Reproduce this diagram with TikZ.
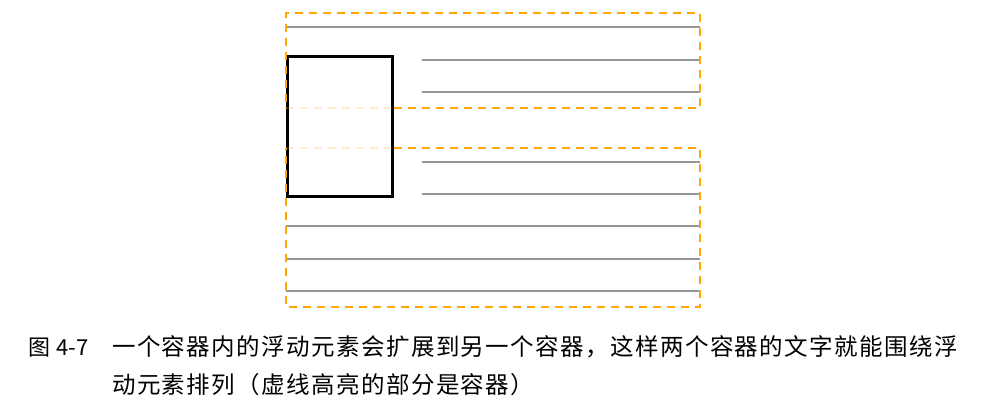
\documentclass[tikz,border=0pt]{standalone}
\usepackage{fontspec}
\newfontfamily\cjk[LetterSpace=6]{Noto Sans CJK SC}
\newfontfamily\cjklabel{Noto Sans CJK SC}
\definecolor{boxorange}{RGB}{255,166,0}
\definecolor{linegray}{RGB}{150,150,150}
\begin{document}
\begin{tikzpicture}[x=1pt,y=-1pt,
    container/.style={draw=boxorange,line width=2.6pt,dash pattern=on 8pt off 6pt},
    faded/.style={container,draw opacity=0.2},
    textline/.style={draw=linegray,line width=2.4pt},
    caption/.style={anchor=base west,font=\cjk\fontsize{23.5}{23.5}\selectfont,inner sep=0pt}]
    \useasboundingbox (0,0) rectangle (986,402);

    \foreach \y/\x in {27/286,60/422,92/422,162/422,194/422,226/286,259/286,291/286}
        \draw[textline] (\x,\y) -- (700,\y);

    \node[draw,line width=2.6pt,inner sep=0pt,minimum width=105pt,minimum height=140pt,anchor=north west] (float) at (286,55) {};

    \coordinate (a1) at (286,13);
    \coordinate (a2) at (700,13);
    \coordinate (a3) at (700,108);
    \coordinate (a4) at (286,108);
    \coordinate (b1) at (286,148);
    \coordinate (b2) at (700,148);
    \coordinate (b3) at (700,307);
    \coordinate (b4) at (286,307);

    \path[container] (a4 -| float.east) -- (a3) -- (a2) -- (a1) -- (a4);
    \path[faded] (a4) -- (a4 -| float.east);
    \path[container] (b1 -| float.east) -- (b2) -- (b3) -- (b4) -- (b1);
    \path[faded] (b1) -- (b1 -| float.east);

    \node[anchor=base west,inner sep=0pt,font=\cjklabel\fontsize{22}{22}\selectfont] (fig) at (28,355) {图\hspace{6pt}4-7};
    \node[caption] (cap1) at (112,355) {一个容器内的浮动元素会扩展到另一个容器，这样两个容器的文字就能围绕浮};
    \node[caption] (cap2) at (112,393) {动元素排列（虚线高亮的部分是容器）};
\end{tikzpicture}
\end{document}
